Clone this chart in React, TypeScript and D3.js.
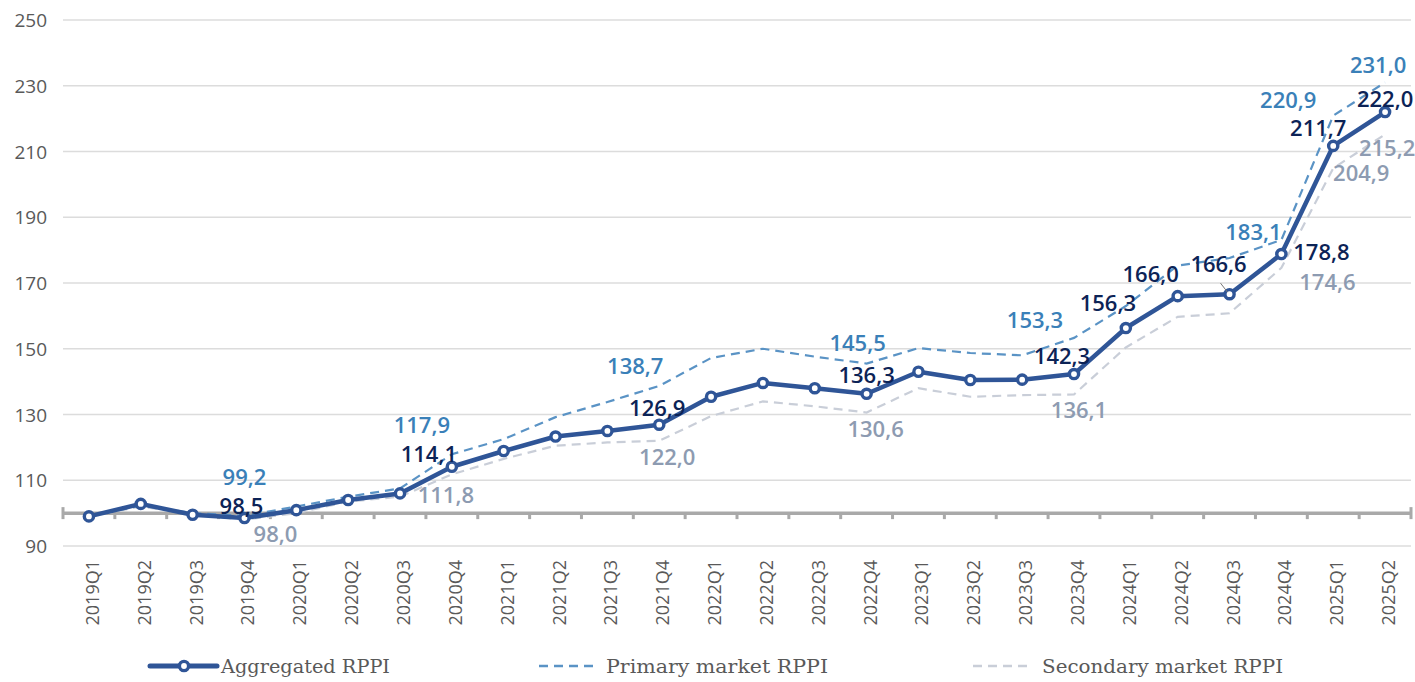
import React from "react";
import * as d3 from "d3";

const quarters = [
  "2019Q1","2019Q2","2019Q3","2019Q4","2020Q1","2020Q2","2020Q3","2020Q4",
  "2021Q1","2021Q2","2021Q3","2021Q4","2022Q1","2022Q2","2022Q3","2022Q4",
  "2023Q1","2023Q2","2023Q3","2023Q4","2024Q1","2024Q2","2024Q3","2024Q4",
  "2025Q1","2025Q2",
];

const aggregated = [
  99.0, 102.8, 99.5, 98.5, 100.9, 104.0, 106.0, 114.1,
  118.9, 123.3, 125.0, 126.9, 135.4, 139.6, 138.0, 136.3,
  143.0, 140.5, 140.6, 142.3, 156.3, 166.0, 166.6, 178.8,
  211.7, 222.0,
];

const primary = [
  99.0, 102.3, 100.0, 99.2, 102.0, 105.0, 107.5, 117.9,
  122.5, 129.2, 133.8, 138.7, 147.2, 150.0, 147.6, 145.5,
  150.2, 148.7, 148.0, 153.3, 163.0, 175.3, 177.6, 183.1,
  220.9, 231.0,
];

const secondary = [
  99.0, 102.0, 99.6, 98.0, 100.0, 103.5, 105.0, 111.8,
  116.5, 120.5, 121.5, 122.0, 129.5, 134.0, 132.5, 130.6,
  138.0, 135.4, 135.9, 136.1, 150.4, 159.7, 160.8, 174.6,
  204.9, 215.2,
];

const yTicks = [90, 110, 130, 150, 170, 190, 210, 230, 250];

const seriesNames = ["Aggregated RPPI", "Primary market RPPI", "Secondary market RPPI"];

// labelled points: [series, index]
const labelled: [string, number][] = [
  ["agg", 3], ["pri", 3], ["sec", 3],
  ["agg", 7], ["pri", 7], ["sec", 7],
  ["agg", 11], ["pri", 11], ["sec", 11],
  ["agg", 15], ["pri", 15], ["sec", 15],
  ["agg", 19], ["pri", 19], ["sec", 19],
  ["agg", 20], ["agg", 21], ["agg", 22],
  ["agg", 23], ["pri", 23], ["sec", 23],
  ["agg", 24], ["pri", 24], ["sec", 24],
  ["agg", 25], ["pri", 25], ["sec", 25],
];

// label placement offsets (pixels) relative to the point
const labelOffsets: Record<string, [number, number]> = {
  "agg3": [-3, -13], "pri3": [0, -40], "sec3": [31, 13],
  "agg7": [-23, -14], "pri7": [-30, -30], "sec7": [-6, 20],
  "agg11": [-2, -18], "pri11": [-24, -21], "sec11": [8, 15],
  "agg15": [0, -20], "pri15": [-9, -22], "sec15": [9, 15],
  "agg19": [-12, -19], "pri19": [-39, -19], "sec19": [5, 15],
  "agg20": [-18, -26], "agg21": [-27, -23], "agg22": [-11, -31],
  "agg23": [40, -3], "pri23": [-28, -9], "sec23": [46, 13],
  "agg24": [-15, -19], "pri24": [-45, -17], "sec24": [28, 4],
  "agg25": [0, -14], "pri25": [-7, -18], "sec25": [2, 13],
};

const W = 1415;
const H = 682;

const COLORS = {
  agg: "#2f5597",
  pri: "#5a93c5",
  sec: "#c9ced8",
  aggLabel: "#0c2356",
  priLabel: "#3a80b8",
  secLabel: "#8d9bb1",
  grid: "#dcdcdc",
  axis: "#a9a9a9",
  text: "#595959",
};

const fmt = (v: number) => v.toFixed(1).replace(".", ",");

export default function App() {
  const x = d3.scaleBand<string>().domain(quarters).range([63, 1411]).padding(0);
  const y = d3.scaleLinear().domain([90, 250]).range([546, 20]);
  const cx = (i: number) => (x(quarters[i]) as number) + x.bandwidth() / 2;

  const line = d3
    .line<number>()
    .x((_, i) => cx(i))
    .y((d) => y(d));

  const data: Record<string, number[]> = { agg: aggregated, pri: primary, sec: secondary };
  const labelColor: Record<string, string> = {
    agg: COLORS.aggLabel,
    pri: COLORS.priLabel,
    sec: COLORS.secLabel,
  };

  const y100 = y(100);
  const boundaries = quarters.map((q) => x(q) as number).concat([1411]);

  return (
    <svg
      width={W}
      height={H}
      style={{ position: "absolute", left: 0, top: 0, background: "#fff" }}
      fontFamily="'Open Sans', sans-serif"
    >
      {/* gridlines */}
      {yTicks.map((t) => (
        <line key={t} x1={63} x2={1411} y1={y(t)} y2={y(t)} stroke={COLORS.grid} strokeWidth={1.3} />
      ))}
      {/* y labels */}
      {yTicks.map((t) => (
        <text
          key={"yl" + t}
          x={47}
          y={y(t)}
          textAnchor="end"
          dominantBaseline="central"
          fontSize={19}
          fill={COLORS.text}
        >
          {t}
        </text>
      ))}

      {/* base axis at 100 */}
      <line x1={63} x2={1411} y1={y100} y2={y100} stroke={COLORS.axis} strokeWidth={3.5} />
      {boundaries.map((bx, i) => (
        <line
          key={"tk" + i}
          x1={bx}
          x2={bx}
          y1={i === 0 || i === boundaries.length - 1 ? y100 - 6 : y100}
          y2={y100 + 6}
          stroke={COLORS.axis}
          strokeWidth={3}
        />
      ))}

      {/* x labels */}
      {quarters.map((q, i) => (
        <text
          key={q}
          transform={`translate(${cx(i) + 3},${560}) rotate(-90)`}
          textAnchor="end"
          dominantBaseline="central"
          fontSize={18}
          fill={COLORS.text}
        >
          {q}
        </text>
      ))}

      {/* series lines */}
      <path d={line(secondary) || ""} fill="none" stroke={COLORS.sec} strokeWidth={2.2} strokeDasharray="9,6" />
      <path d={line(primary) || ""} fill="none" stroke={COLORS.pri} strokeWidth={2.2} strokeDasharray="9,6" />
      <path d={line(aggregated) || ""} fill="none" stroke={COLORS.agg} strokeWidth={4.5} strokeLinejoin="round" />
      {aggregated.map((v, i) => (
        <circle key={"m" + i} cx={cx(i)} cy={y(v)} r={4.6} fill="#fff" stroke={COLORS.agg} strokeWidth={3.4} />
      ))}

      {/* leader line for 2024Q3 aggregated */}
      <line
        x1={cx(22) - 9}
        y1={y(aggregated[22]) - 11}
        x2={cx(22) - 2}
        y2={y(aggregated[22]) - 2}
        stroke="#777"
        strokeWidth={1}
      />

      {/* data labels */}
      {labelled.map(([s, i]) => {
        const off = labelOffsets[s + i];
        const v = data[s][i];
        return (
          <text
            key={"lb" + s + i}
            x={cx(i) + off[0]}
            y={y(v) + off[1]}
            textAnchor="middle"
            dominantBaseline="central"
            fontSize={22}
            fontWeight={600}
            fill={labelColor[s]}
          >
            {fmt(v)}
          </text>
        );
      })}

      {/* legend */}
      <g fontFamily="'DejaVu Serif', serif" fontSize={19} fill={COLORS.text}>
        <line x1={150} x2={217} y1={666} y2={666} stroke={COLORS.agg} strokeWidth={5} strokeLinecap="round" />
        <circle cx={184} cy={666} r={4.6} fill="#fff" stroke={COLORS.agg} strokeWidth={3.4} />
        <text x={221} y={666} dominantBaseline="central" textLength={169} lengthAdjust="spacingAndGlyphs">
          {seriesNames[0]}
        </text>
        <line x1={539} x2={597} y1={666} y2={666} stroke={COLORS.pri} strokeWidth={2.5} strokeDasharray="9,6" />
        <text x={606} y={666} dominantBaseline="central" textLength={222} lengthAdjust="spacingAndGlyphs">
          {seriesNames[1]}
        </text>
        <line x1={973} x2={1033} y1={666} y2={666} stroke={COLORS.sec} strokeWidth={2.5} strokeDasharray="9,6" />
        <text x={1042} y={666} dominantBaseline="central" textLength={241} lengthAdjust="spacingAndGlyphs">
          {seriesNames[2]}
        </text>
      </g>
    </svg>
  );
}
